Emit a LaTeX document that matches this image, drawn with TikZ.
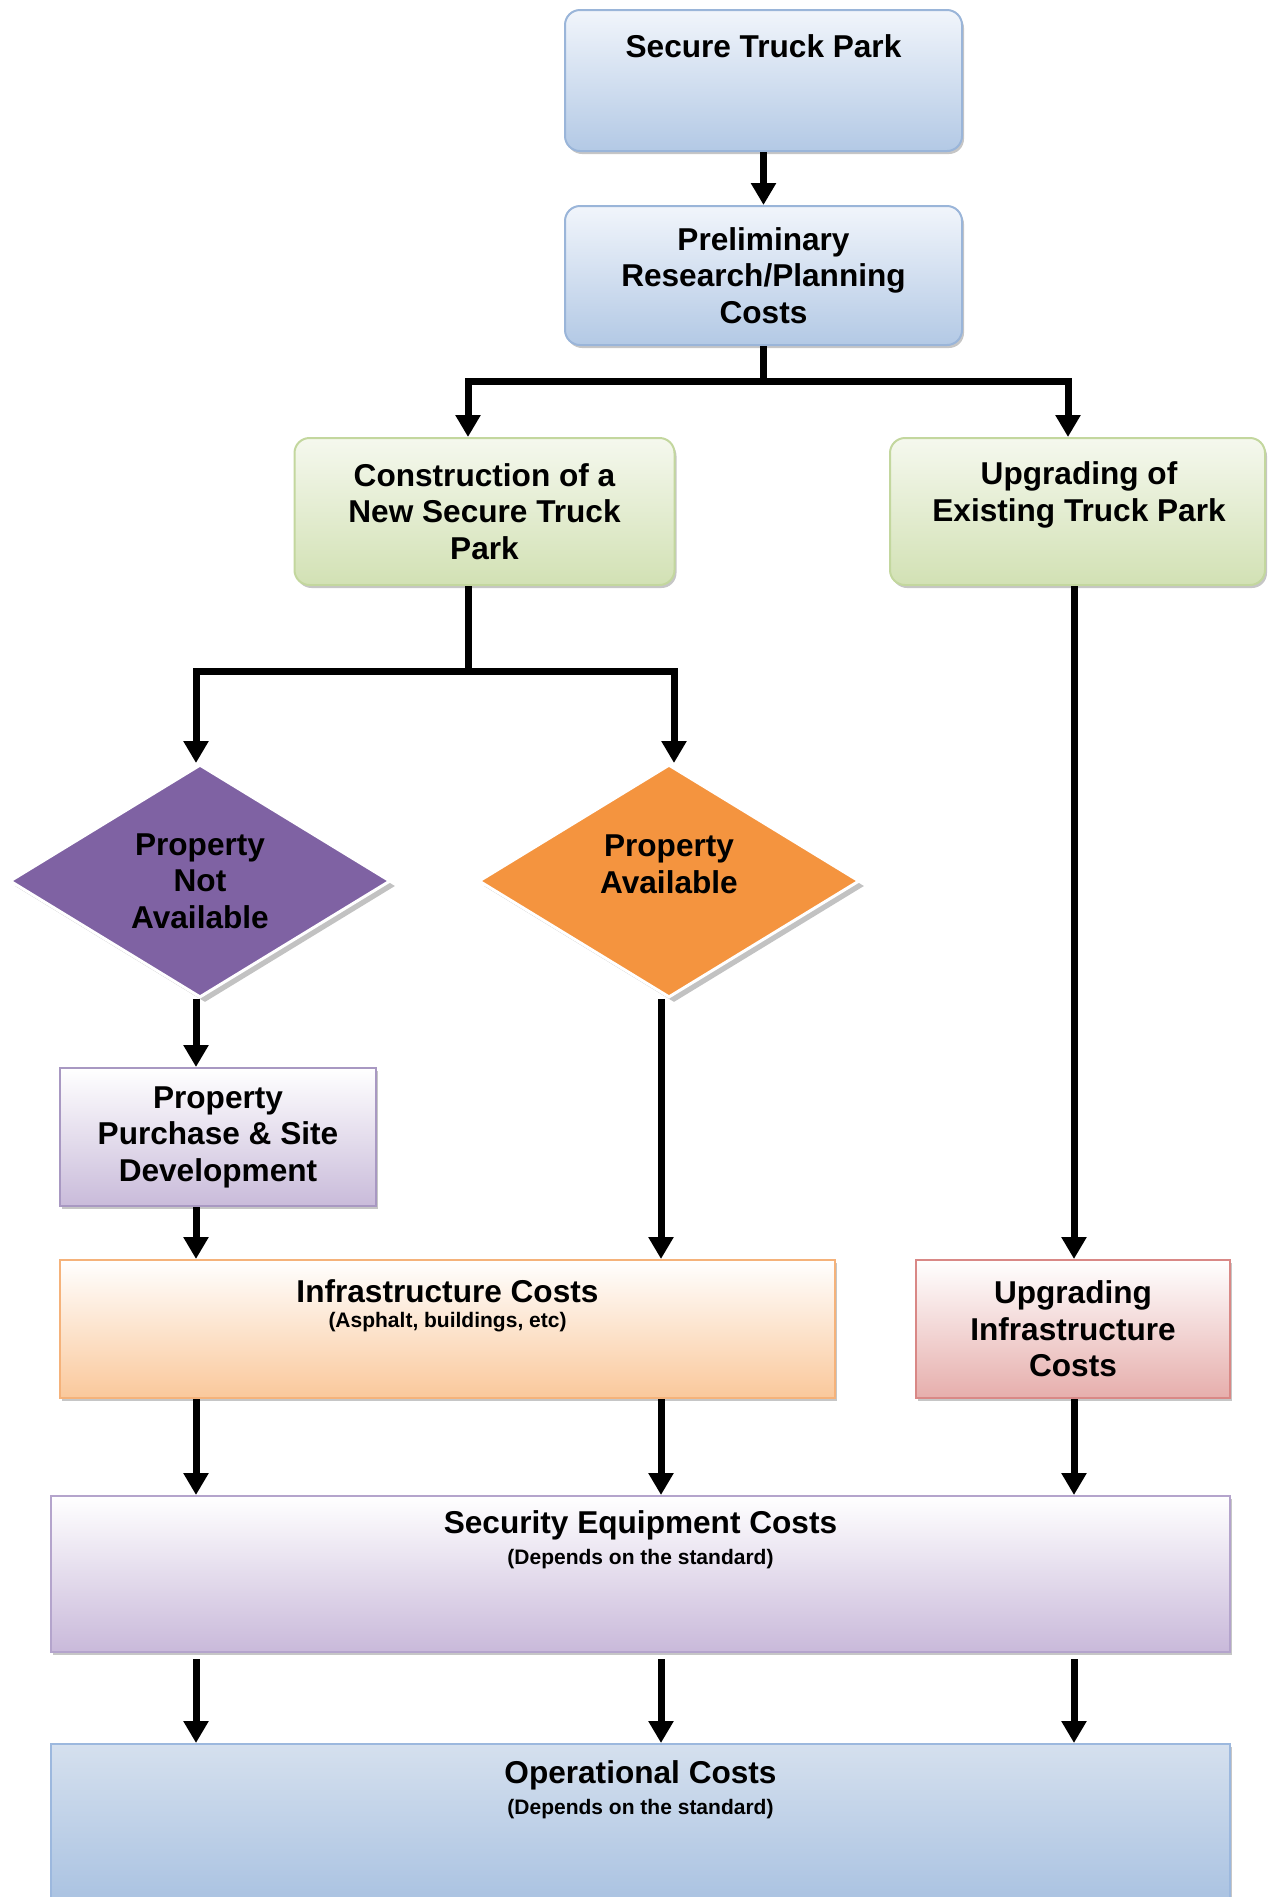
\documentclass[tikz,border=0pt]{standalone}
\usepackage{fontspec}
\setmainfont{Liberation Sans}
\usetikzlibrary{positioning, arrows.meta, shapes.geometric, shadows}
\definecolor{PlanTop}{HTML}{F1F5FB}
\definecolor{PlanBot}{HTML}{B3C9E5}
\definecolor{PlanLine}{HTML}{9AB5D9}
\definecolor{SiteTop}{HTML}{F5F8EE}
\definecolor{SiteBot}{HTML}{D2E1B4}
\definecolor{SiteLine}{HTML}{C3D79E}
\definecolor{LotPurple}{HTML}{7F62A3}
\definecolor{LotOrange}{HTML}{F4943F}
\definecolor{BuyBot}{HTML}{C9BBDA}
\definecolor{BuyLine}{HTML}{A898C2}
\definecolor{InfraBot}{HTML}{FAC89B}
\definecolor{InfraLine}{HTML}{F5B27A}
\definecolor{UpBot}{HTML}{E6AEAC}
\definecolor{UpLine}{HTML}{D98886}
\definecolor{GuardBot}{HTML}{C9B9DA}
\definecolor{GuardLine}{HTML}{B4A4CC}
\definecolor{RunTop}{HTML}{D5E0EE}
\definecolor{RunBot}{HTML}{A5BFE0}
\definecolor{RunLine}{HTML}{9CB8DE}

\tikzset{
  every node/.style={font=\bfseries\fontsize{15.8}{18.3}\selectfont, align=center, inner sep=0pt},
  boxbase/.style={rectangle, line width=1pt,
    drop shadow={shadow xshift=1pt, shadow yshift=-1.5pt, fill=black!50, opacity=.45}},
  planbox/.style={boxbase, rounded corners=7.5pt, draw=PlanLine, top color=PlanTop, bottom color=PlanBot},
  sitebox/.style={boxbase, rounded corners=7.5pt, draw=SiteLine, top color=SiteTop, bottom color=SiteBot},
  buybox/.style={boxbase, draw=BuyLine, top color=white, bottom color=BuyBot},
  infrabox/.style={boxbase, draw=InfraLine, top color=white, bottom color=InfraBot},
  upbox/.style={boxbase, draw=UpLine, top color=white, bottom color=UpBot},
  guardbox/.style={boxbase, draw=GuardLine, top color=white, bottom color=GuardBot},
  runbox/.style={boxbase, draw=RunLine, top color=RunTop, bottom color=RunBot},
  choice/.style={diamond, draw=white, line width=1.5pt, shape aspect=1.6,
    minimum width=190.5pt, minimum height=116.5pt,
    drop shadow={shadow xshift=2.5pt, shadow yshift=-2.5pt, fill=black!40, opacity=.6}},
  note/.style={font=\bfseries\fontsize{10.5}{12}\selectfont},
  wire/.style={line width=3.5pt},
  arr/.style={wire, -{Triangle[width=12pt,length=11pt]}},
}

\begin{document}
\begin{tikzpicture}[x=0.5pt, y=-0.5pt]
\useasboundingbox (0,0) rectangle (1269,1897);

% columns of the connectors
\coordinate (xNew) at (468,0);
\coordinate (xUp) at (1068,0);
\coordinate (xAvail) at (674,0);
\coordinate (colA) at (196,0);
\coordinate (colB) at (661,0);
\coordinate (colC) at (1074,0);

% top
\node[planbox, minimum width=198.5pt, minimum height=70.5pt] (park) at (763.5,80.5) {};
\node (parktext) at (763.5,46) {Secure Truck Park};
\node[planbox, minimum width=198.5pt, minimum height=69.5pt] (plan) at (763.5,275.5)
  {Preliminary\\Research/Planning\\Costs};

% options
\node[sitebox, minimum width=190pt, minimum height=73.5pt] (newpark) at (484.5,511.5)
  {Construction of a\\New Secure Truck\\Park};
\node[sitebox, minimum width=187.5pt, minimum height=73.5pt] (upexist) at (1077.5,511.5) {};
\node (upexisttext) at (1079,495) {Upgrading of\\Existing Truck Park};

% property
\node[choice, fill=LotPurple] (noland) at (200,881) {Property\\Not\\Available};
\node[choice, fill=LotOrange] (land) at (669,881) {};
\node (landtext) at (669,864) {Property\\Available};
\node[buybox, minimum width=158pt, minimum height=69pt] (buy) at (218,1137)
  {Property\\Purchase \& Site\\Development};

% costs
\node[infrabox, minimum width=387.5pt, minimum height=69pt] (infra) at (447.5,1329) {};
\node (infratitle) at (447.5,1291) {Infrastructure Costs};
\node[note, below=4.5pt of infratitle] (infranote) {(Asphalt, buildings, etc)};
\node[upbox, minimum width=157pt, minimum height=69pt] (upinfra) at (1073,1329)
  {Upgrading\\Infrastructure\\Costs};
\node[guardbox, minimum width=589.5pt, minimum height=78pt] (guard) at (640.5,1574) {};
\node (guardtitle) at (640.5,1525) {Security Equipment Costs};
\node[note, below=4.5pt of guardtitle] (guardnote) {(Depends on the standard)};
\node[runbox, minimum width=589.5pt, minimum height=88pt] (run) at (640.5,1832) {};
\node (runtitle) at (640.5,1775) {Operational Costs};
\node[note, below=4.5pt of runtitle] (runnote) {(Depends on the standard)};

% connectors
\coordinate (hubA) at (763.5,381);
\coordinate (hubB) at (468,671);
\draw[arr] (park) -- (plan);
\draw[wire] (plan) -- (hubA);
\draw[arr] (hubA) -| (newpark.north -| xNew);
\draw[arr] (hubA) -| (upexist.north -| xUp);
\draw[wire] (newpark.south -| xNew) -- (hubB);
\draw[arr] (hubB) -| (noland.north -| colA);
\draw[arr] (hubB) -| (land.north -| xAvail);
\draw[arr] (noland.south -| colA) -- (buy.north -| colA);
\draw[arr] (buy.south -| colA) -- (infra.north -| colA);
\draw[arr] (land.south -| colB) -- (infra.north -| colB);
\draw[arr] (upexist.south -| colC) -- (upinfra.north -| colC);
\draw[arr] (infra.south -| colA) -- (guard.north -| colA);
\draw[arr] (infra.south -| colB) -- (guard.north -| colB);
\draw[arr] (upinfra.south -| colC) -- (guard.north -| colC);
\foreach \c in {colA,colB,colC}
  \draw[arr] ([yshift=-3pt]guard.south -| \c) -- (run.north -| \c);
\end{tikzpicture}
\end{document}
